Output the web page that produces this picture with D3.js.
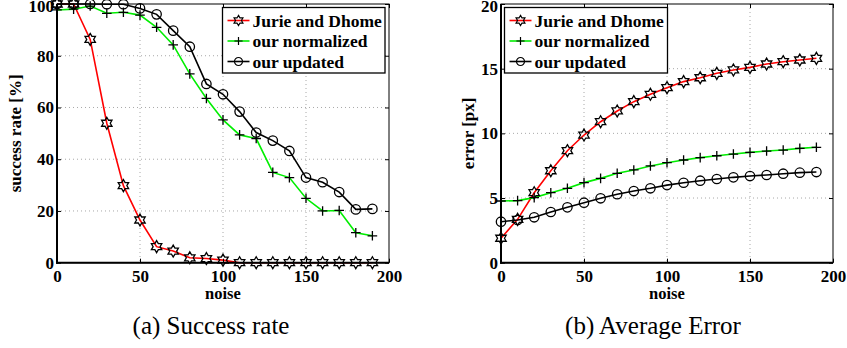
<!DOCTYPE html>
<html>
<head>
<meta charset="utf-8">
<script src="https://cdn.jsdelivr.net/npm/d3@7/dist/d3.min.js"></script>
<style>
  html, body { margin: 0; padding: 0; background: #fff; }
  svg { display: block; }
  text { font-family: "Liberation Serif", "Times New Roman", serif; }
</style>
</head>
<body>
<svg id="chart" width="847" height="348"></svg>
<script>
// ---------------- data ----------------
const noise = [0, 10, 20, 30, 40, 50, 60, 70, 80, 90, 100, 110, 120, 130, 140, 150, 160, 170, 180, 190];
const seriesNames = ["Jurie and Dhome", "our normalized", "our updated"];

const successJurie      = [100, 100, 86.3, 53.9, 29.8, 16.5, 6.2, 4.5, 1.9, 1.6, 1.0, 0, 0, 0, 0, 0, 0, 0, 0, 0];
const successNormalized = [97.7, 98.0, 99.2, 96.4, 96.8, 95.7, 91.0, 84.2, 73.0, 63.5, 55.2, 49.4, 48.0, 34.9, 32.9, 24.9, 20.0, 20.2, 11.6, 10.4];
const successUpdated    = [100, 100, 100, 99.9, 99.9, 98.3, 96.0, 89.7, 83.5, 69.1, 65.1, 58.4, 50.3, 47.2, 43.2, 32.9, 31.1, 27.3, 20.6, 20.8];

const errorJurie      = [1.89, 3.35, 5.41, 7.11, 8.66, 9.87, 10.9, 11.73, 12.45, 13.02, 13.53, 14.0, 14.3, 14.64, 14.9, 15.1, 15.36, 15.54, 15.67, 15.8];
const errorNormalized = [4.77, 4.8, 5.03, 5.41, 5.75, 6.19, 6.52, 6.91, 7.17, 7.48, 7.73, 7.94, 8.12, 8.27, 8.4, 8.53, 8.63, 8.71, 8.84, 8.92];
const errorUpdated    = [3.17, 3.3, 3.51, 3.92, 4.28, 4.64, 4.98, 5.29, 5.54, 5.75, 6.0, 6.18, 6.34, 6.47, 6.6, 6.7, 6.78, 6.88, 6.96, 7.01];

const xTicks = [0, 50, 100, 150, 200];
const successTicks = [0, 20, 40, 60, 80, 100];
const errorTicks = [0, 5, 10, 15, 20];

// ---------------- markers ----------------
const hexagram = {
  draw(ctx, size) {
    const R = size, r = size / Math.sqrt(3);
    for (let i = 0; i < 12; i++) {
      const a = -Math.PI / 2 + i * Math.PI / 6;
      const rad = i % 2 === 0 ? R : r;
      const x = rad * Math.cos(a), y = rad * Math.sin(a);
      if (i === 0) ctx.moveTo(x, y); else ctx.lineTo(x, y);
    }
    ctx.closePath();
  }
};
const plus = {
  draw(ctx, size) {
    ctx.moveTo(-size, 0); ctx.lineTo(size, 0);
    ctx.moveTo(0, -size); ctx.lineTo(0, size);
  }
};
const circle = {
  draw(ctx, size) {
    ctx.moveTo(size, 0);
    ctx.arc(0, 0, size, 0, 2 * Math.PI);
    ctx.closePath();
  }
};
const styles = [
  { color: "#ff0000", symbol: hexagram, size: 6 },
  { color: "#00ee00", symbol: plus, size: 4.8 },
  { color: "#000000", symbol: circle, size: 4.7 }
];

const svg = d3.select("#chart");
const FONT = "Liberation Serif";

function drawPanel(opt) {
  const x = d3.scaleLinear().domain([0, 200]).range([opt.left, opt.right]);
  const y = d3.scaleLinear().domain(opt.yDomain).range([opt.bottom, opt.top]);
  const g = svg.append("g");
  const w = opt.right - opt.left, h = opt.bottom - opt.top;

  // grid
  const grid = g.append("g").attr("class", "grid");
  grid.selectAll("line.gx").data(xTicks.slice(1, -1)).join("line")
    .attr("x1", d => x(d)).attr("x2", d => x(d))
    .attr("y1", opt.top).attr("y2", opt.bottom);
  grid.selectAll("line.gy").data(opt.yTicks.slice(1, -1)).join("line")
    .attr("class", "gy")
    .attr("x1", opt.left).attr("x2", opt.right)
    .attr("y1", d => y(d)).attr("y2", d => y(d));
  grid.selectAll("line")
    .attr("stroke", "#a8a8a8").attr("stroke-width", 1)
    .attr("stroke-dasharray", "1,3");

  // lines + markers
  opt.series.forEach((vals, i) => {
    const st = styles[i];
    const pts = noise.map((n, j) => [n, vals[j]]);
    g.append("path")
      .attr("d", d3.line().x(d => x(d[0])).y(d => y(d[1]))(pts))
      .attr("fill", "none").attr("stroke", st.color).attr("stroke-width", 1.6);
  });
  opt.series.forEach((vals, i) => {
    const st = styles[i];
    const sym = d3.symbol().type(st.symbol).size(st.size);
    g.append("g").selectAll("path").data(noise.map((n, j) => [n, vals[j]])).join("path")
      .attr("transform", d => `translate(${x(d[0])},${y(d[1])})`)
      .attr("d", sym())
      .attr("fill", "none").attr("stroke", "#000").attr("stroke-width", 1.3);
  });

  // axes (inward ticks)
  const ax = g.append("g");
  ax.append("g").attr("transform", `translate(0,${opt.bottom})`)
    .call(d3.axisBottom(x).tickValues(xTicks).tickSize(-4).tickPadding(7).tickFormat(d3.format("d")));
  ax.append("g").attr("transform", `translate(0,${opt.top})`)
    .call(d3.axisTop(x).tickValues(xTicks).tickSize(-4).tickFormat(""));
  const leftAxis = ax.append("g").attr("transform", `translate(${opt.left},0)`)
    .call(d3.axisLeft(y).tickValues(opt.yTicks).tickSize(-4).tickPadding(3).tickFormat(d3.format("d")));
  ax.append("g").attr("transform", `translate(${opt.right},0)`)
    .call(d3.axisRight(y).tickValues(opt.yTicks).tickSize(-4).tickFormat(""));
  ax.selectAll(".domain").remove();
  ax.selectAll(".tick line").attr("stroke", "#000").attr("stroke-width", 1);
  ax.selectAll(".tick text").attr("font-family", FONT).attr("font-weight", "bold")
    .attr("font-size", 17).attr("fill", "#000");
  const yMax = opt.yDomain[1];
  leftAxis.selectAll(".tick text").filter(d => d === yMax).attr("dy", "0.46em");

  // box
  g.append("rect").attr("x", opt.left).attr("y", opt.top).attr("width", w).attr("height", h)
    .attr("fill", "none").attr("stroke", "#000").attr("stroke-width", 1);
  g.append("line").attr("x1", opt.left).attr("x2", opt.left).attr("y1", opt.top).attr("y2", opt.bottom + 1)
    .attr("stroke", "#000").attr("stroke-width", 2);
  g.append("line").attr("x1", opt.left - 1).attr("x2", opt.right).attr("y1", opt.bottom).attr("y2", opt.bottom)
    .attr("stroke", "#000").attr("stroke-width", 2);

  // labels
  g.append("text").attr("x", x(100)).attr("y", 299).attr("text-anchor", "middle")
    .attr("font-family", FONT).attr("font-weight", "bold").attr("font-size", 16.5).text("noise");
  g.append("text")
    .attr("transform", `translate(${opt.ylabelX},${(opt.top + opt.bottom) / 2}) rotate(-90)`)
    .attr("text-anchor", "middle")
    .attr("font-family", FONT).attr("font-weight", "bold").attr("font-size", 17).text(opt.ylabel);
  g.append("text").attr("x", opt.captionX).attr("y", 334).attr("text-anchor", "middle")
    .attr("font-family", FONT).attr("font-size", 25).text(opt.caption);

  // legend
  const lg = g.append("g");
  lg.append("rect").attr("x", opt.legend.x).attr("y", 7.5)
    .attr("width", opt.legend.w).attr("height", 65.5)
    .attr("fill", "#fff").attr("stroke", "#000").attr("stroke-width", 1.3);
  seriesNames.forEach((name, i) => {
    const cy = 20.5 + i * 20.5;
    const lx0 = opt.legend.x + 5, lx1 = opt.legend.x + 27;
    const st = styles[i];
    lg.append("line").attr("x1", lx0).attr("x2", lx1).attr("y1", cy).attr("y2", cy)
      .attr("stroke", st.color).attr("stroke-width", 1.6);
    lg.append("path").attr("transform", `translate(${(lx0 + lx1) / 2},${cy})`)
      .attr("d", d3.symbol().type(st.symbol).size(st.size * 0.85)())
      .attr("fill", "none").attr("stroke", "#000").attr("stroke-width", 1.2);
    lg.append("text").attr("x", opt.legend.x + 30).attr("y", cy + 6)
      .attr("font-family", FONT).attr("font-weight", "bold").attr("font-size", 17.5)
      .text(name);
  });
}

drawPanel({
  left: 57, right: 389, top: 4, bottom: 262.7,
  yDomain: [0, 100], yTicks: successTicks,
  series: [successJurie, successNormalized, successUpdated],
  ylabel: "success rate [%]", ylabelX: 21,
  caption: "(a) Success rate", captionX: 211,
  legend: { x: 222.5, w: 162.5 }
});
drawPanel({
  left: 501, right: 833, top: 4, bottom: 262.7,
  yDomain: [0, 20], yTicks: errorTicks,
  series: [errorJurie, errorNormalized, errorUpdated],
  ylabel: "error [px]", ylabelX: 474,
  caption: "(b) Average Error", captionX: 653,
  legend: { x: 504.5, w: 163 }
});
</script>
</body>
</html>
